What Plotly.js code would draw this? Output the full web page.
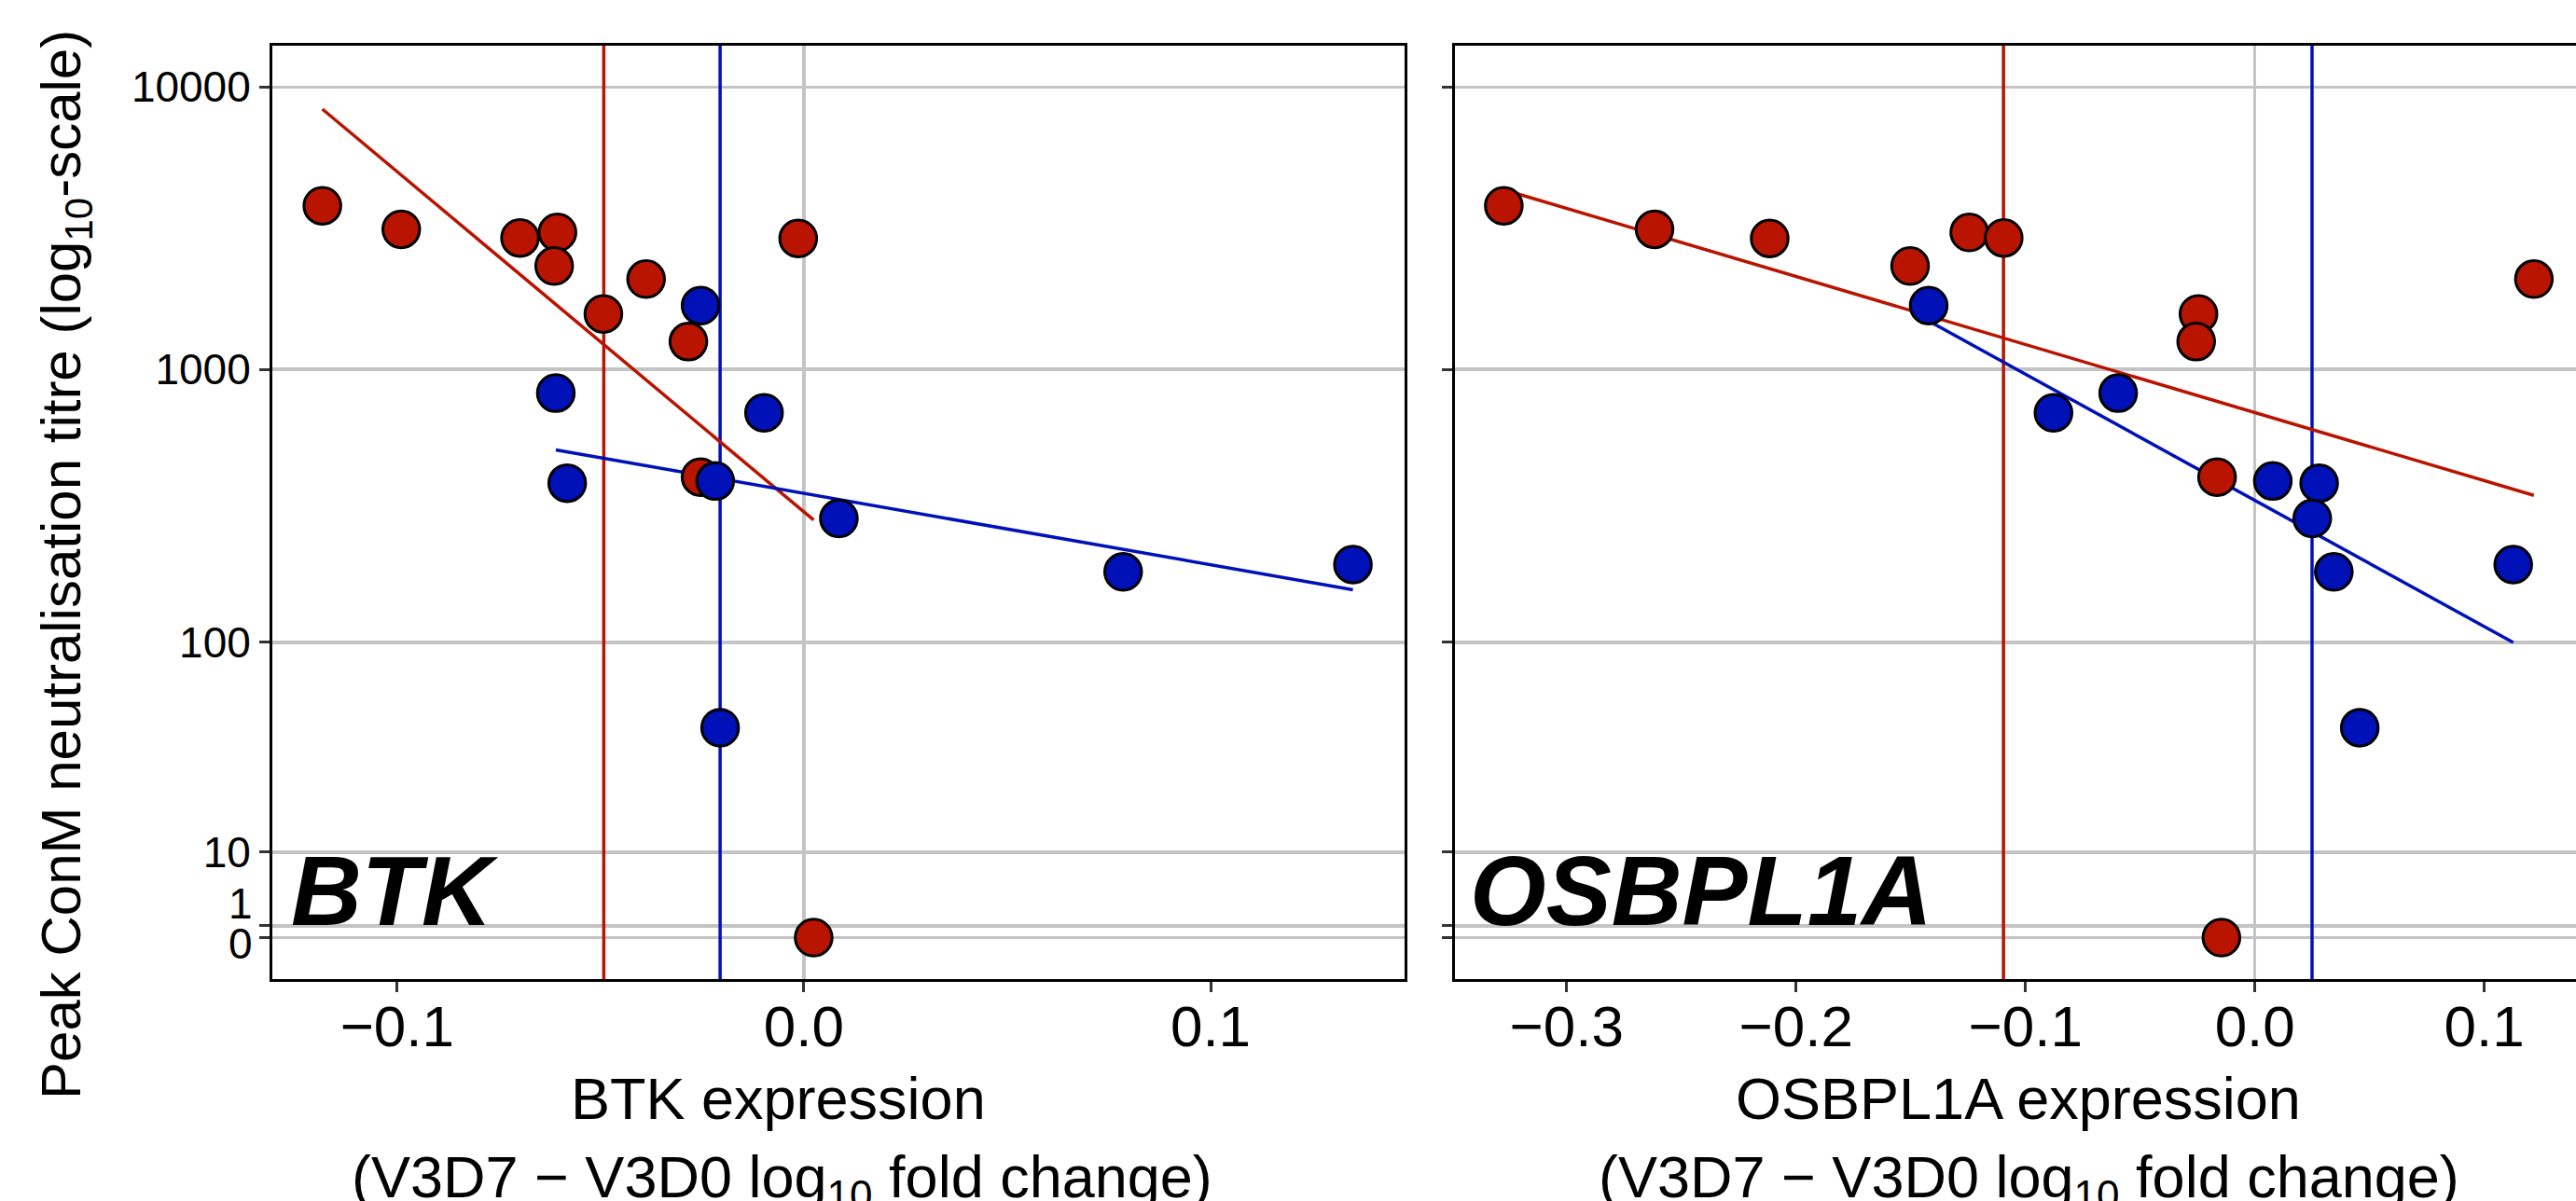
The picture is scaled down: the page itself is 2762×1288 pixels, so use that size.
<!DOCTYPE html>
<html>
<head>
<meta charset="utf-8">
<script src="https://cdn.plot.ly/plotly-3.0.1.min.js"></script>
<style>html,body{margin:0;padding:0;background:#fff;}</style>
</head>
<body>
<div id="chart" style="width:2762px;height:1288px;"></div>
<script>
// ---------------- DATA ----------------
// Peak ConM neutralisation titres; red = one group, blue = other group
const btkRedX      = [-0.1184, -0.0990, -0.0698, -0.0606, -0.0614, -0.0388, -0.0493, -0.0284, -0.0014, -0.0254, 0.0024];
const btkRedTitre  = [3806, 3141, 2928, 3064, 2329, 2094, 1575, 1256, 2918, 411, 0];
const btkBlueX     = [-0.0254, -0.0610, -0.0098, -0.0582, -0.0218, 0.0086, 0.0785, 0.1350, -0.0206];
const btkBlueTitre = [1687, 823, 700, 391, 398, 291, 185, 197, 45];

const osbRedX      = [-0.3274, -0.2617, -0.2115, -0.1503, -0.1245, -0.1095, -0.0246, -0.0256, 0.1216, -0.0165, -0.0146];
const osbRedTitre  = [3806, 3141, 2918, 2329, 3064, 2928, 1575, 1256, 2094, 411, 0];
const osbBlueX     = [-0.1422, -0.0878, -0.0596, 0.0078, 0.0280, 0.0250, 0.0344, 0.1126, 0.0457];
const osbBlueTitre = [1687, 700, 823, 398, 391, 291, 185, 197, 45];

// vertical reference lines (x positions)
const btkVlineRed  = -0.0492;
const btkVlineBlue = -0.0206;
const osbVlineRed  = -0.1096;
const osbVlineBlue = 0.0249;

// y axis ticks
const yTickValues = [10000, 1000, 100, 10, 1, 0];
const yTickLabels = ['10000', '1000', '100', '10', '1', '0'];
const btkXTicks = [-0.1, 0, 0.1];
const btkXLabels = ['\u22120.1', '0.0', '0.1'];
const osbXTicks = [-0.3, -0.2, -0.1, 0, 0.1];
const osbXLabels = ['\u22120.3', '\u22120.2', '\u22120.1', '0.0', '0.1'];

// ---------------- STYLE ----------------
const RED = '#B81400';
const BLUE = '#0011B8';
const GRID = '#c4c4c4';
const FONT = 'Liberation Sans, Arial, Helvetica, sans-serif';
const OFFSET = 10;                 // pseudo-log shift: log10(titre + 10)
const W = 2762, H = 1288;
const yLogRange = [0.85362, 4.14638];

const tr = v => v + OFFSET;

function fitLine(xs, ts) {
  const ys = ts.map(t => Math.log10(t + OFFSET));
  const n = xs.length;
  const mx = xs.reduce((a, b) => a + b, 0) / n;
  const my = ys.reduce((a, b) => a + b, 0) / n;
  let sxx = 0, sxy = 0;
  for (let i = 0; i < n; i++) { sxx += (xs[i] - mx) ** 2; sxy += (xs[i] - mx) * (ys[i] - my); }
  const b = sxy / sxx, a = my - b * mx;
  const x0 = Math.min(...xs), x1 = Math.max(...xs);
  return { x: [x0, x1], y: [Math.pow(10, a + b * x0), Math.pow(10, a + b * x1)] };
}

function vline(x, color, xa, ya) {
  return { type: 'scatter', mode: 'lines', x: [x, x], y: [Math.pow(10, yLogRange[0]), Math.pow(10, yLogRange[1])],
           xaxis: xa, yaxis: ya, line: { color: color, width: 3.5 }, hoverinfo: 'skip', cliponaxis: true };
}
function regLine(xs, ts, color, xa, ya) {
  const f = fitLine(xs, ts);
  return { type: 'scatter', mode: 'lines', x: f.x, y: f.y, xaxis: xa, yaxis: ya,
           line: { color: color, width: 3.5 }, hoverinfo: 'skip' };
}
function pts(xs, ts, color, xa, ya) {
  return { type: 'scatter', mode: 'markers', x: xs, y: ts.map(tr), xaxis: xa, yaxis: ya,
           marker: { size: 39.5, color: color, line: { color: 'black', width: 3 } }, cliponaxis: false };
}

const data = [
  vline(btkVlineRed, RED, 'x', 'y'), vline(btkVlineBlue, BLUE, 'x', 'y'),
  vline(osbVlineRed, RED, 'x2', 'y2'), vline(osbVlineBlue, BLUE, 'x2', 'y2'),
  regLine(btkRedX, btkRedTitre, RED, 'x', 'y'), regLine(btkBlueX, btkBlueTitre, BLUE, 'x', 'y'),
  regLine(osbRedX, osbRedTitre, RED, 'x2', 'y2'), regLine(osbBlueX, osbBlueTitre, BLUE, 'x2', 'y2'),
  pts(btkRedX, btkRedTitre, RED, 'x', 'y'), pts(btkBlueX, btkBlueTitre, BLUE, 'x', 'y'),
  pts(osbRedX, osbRedTitre, RED, 'x2', 'y2'), pts(osbBlueX, osbBlueTitre, BLUE, 'x2', 'y2')
];

const yDomain = [1 - 1050 / H, 1 - 49 / H];
const commonX = {
  ticks: 'outside', ticklen: 11, tickwidth: 3, tickcolor: '#333333',
  showline: true, linecolor: 'black', linewidth: 3, mirror: true,
  showgrid: false, zeroline: true, zerolinecolor: GRID, zerolinewidth: 3.5,
  tickfont: { family: FONT, size: 62, color: 'black' }, ticklabelstandoff: -16, automargin: false
};
const commonY = {
  type: 'log', range: yLogRange, domain: yDomain,
  tickvals: yTickValues.map(tr),
  ticks: 'outside', ticklen: 11, tickwidth: 3, tickcolor: '#333333',
  showgrid: true, gridcolor: GRID, gridwidth: 3.5, zeroline: false,
  showline: true, linecolor: 'black', linewidth: 3,
  tickfont: { family: FONT, size: 46, color: 'black' }, automargin: false
};

const layout = {
  width: W, height: H,
  margin: { l: 0, r: 0, t: 0, b: 0 },
  paper_bgcolor: 'white', plot_bgcolor: 'white',
  showlegend: false,
  xaxis: Object.assign({}, commonX, { domain: [292 / W, 1506 / W], range: [-0.1307, 0.1477], tickvals: btkXTicks, ticktext: btkXLabels, anchor: 'y' }),
  xaxis2: Object.assign({}, commonX, { domain: [1560 / W, 1], range: [-0.3487, 0.13996], tickvals: osbXTicks, ticktext: osbXLabels, anchor: 'y2' }),
  yaxis: Object.assign({}, commonY, { anchor: 'x', mirror: true, ticktext: yTickLabels.map((t, i) => i < 4 ? t : '') }),
  yaxis2: Object.assign({}, commonY, { anchor: 'x2', mirror: false, showticklabels: false }),
  annotations: [
    // small-tick labels that sit off their ticks in the original
    { text: yTickLabels[4], xref: 'paper', yref: 'paper', x: 273 / W, y: 1 - 969 / H, xanchor: 'right', yanchor: 'middle', showarrow: false, font: { family: FONT, size: 46, color: 'black' } },
    { text: yTickLabels[5], xref: 'paper', yref: 'paper', x: 273 / W, y: 1 - 1012 / H, xanchor: 'right', yanchor: 'middle', showarrow: false, font: { family: FONT, size: 46, color: 'black' } },
    // panel gene labels
    { text: '<b><i>BTK</i></b>', xref: 'paper', yref: 'paper', x: 310 / W, y: 1 - 955 / H, xanchor: 'left', yanchor: 'middle', showarrow: false, font: { family: FONT, size: 105, color: 'black' } },
    { text: '<b><i>OSBPL1A</i></b>', xref: 'paper', yref: 'paper', x: 1574 / W, y: 1 - 955 / H, xanchor: 'left', yanchor: 'middle', showarrow: false, font: { family: FONT, size: 105, color: 'black' } },
    // y title
    { text: 'Peak ConM neutralisation titre (log<sub>10</sub>-scale)', xref: 'paper', yref: 'paper', x: 70 / W, y: 1 - 606 / H, textangle: -90, xanchor: 'center', yanchor: 'middle', showarrow: false, font: { family: FONT, size: 60, color: 'black' } },
    // x titles
    { text: 'BTK expression', xref: 'paper', yref: 'paper', x: 834 / W, y: 1 - 1178 / H, xanchor: 'center', yanchor: 'middle', showarrow: false, font: { family: FONT, size: 63, color: 'black' } },
    { text: '(V3D7 \u2212 V3D0 log<sub>10</sub> fold change)', xref: 'paper', yref: 'paper', x: 838 / W, y: 1 - 1225 / H, xanchor: 'center', yanchor: 'top', showarrow: false, font: { family: FONT, size: 63, color: 'black' } },
    { text: 'OSBPL1A expression', xref: 'paper', yref: 'paper', x: 2164 / W, y: 1 - 1178 / H, xanchor: 'center', yanchor: 'middle', showarrow: false, font: { family: FONT, size: 63, color: 'black' } },
    { text: '(V3D7 \u2212 V3D0 log<sub>10</sub> fold change)', xref: 'paper', yref: 'paper', x: 2175 / W, y: 1 - 1225 / H, xanchor: 'center', yanchor: 'top', showarrow: false, font: { family: FONT, size: 63, color: 'black' } }
  ]
};

Plotly.newPlot('chart', data, layout, { staticPlot: true, displayModeBar: false });
</script>
</body>
</html>
